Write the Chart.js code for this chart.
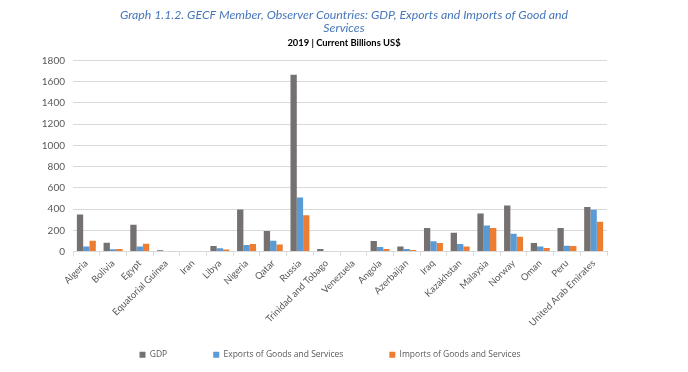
<!DOCTYPE html>
<html>
<head>
<meta charset="utf-8">
<script src="https://cdn.jsdelivr.net/npm/chart.js@4.4.1/dist/chart.umd.min.js"></script>
<style>
  html, body { margin: 0; padding: 0; background: #fff; }
  #wrap { position: relative; width: 688px; height: 372px; }
</style>
</head>
<body>
<div id="wrap"><canvas id="gecfChart" width="688" height="372"></canvas></div>
<script>
// GECF countries, 2019, current billions US$
const countries = ['Algeria','Bolivia','Egypt','Equatorial Guinea','Iran','Libya','Nigeria','Qatar','Russia',
  'Trinidad and Tobago','Venezuela','Angola','Azerbaijan','Iraq','Kazakhstan','Malaysia','Norway','Oman','Peru',
  'United Arab Emirates'];
const gdp     = [349, 84, 253, 12, 0, 53, 396, 193, 1665, 25, 0, 100, 47, 222, 178, 359, 434, 81, 222, 421];
const exports = [47, 22, 47, 5, 0, 31, 62, 103, 509, 0, 0, 44, 25, 97, 72, 246, 168, 47, 56, 393];
const imports = [103, 25, 75, 3, 0, 19, 72, 66, 343, 0, 0, 25, 16, 81, 47, 222, 140, 34, 53, 281];
const yTicks  = [0, 200, 400, 600, 800, 1000, 1200, 1400, 1600, 1800];

const tickFont = { family: 'Lato', size: 9.5 };

// legend items are spread wide apart but sit close under the axis labels:
// keep the wide item padding, trim the space it adds above the row
const LEGEND_TRIM = 26;
const LEGEND_SHIFT = -14;
const legendGap = {
  id: 'legendGap',
  beforeUpdate(chart) {
    const lg = chart.legend;
    if (!lg || lg._gapPatched) return;
    lg._gapPatched = true;
    const fit = lg.fit, draw = lg.draw;
    lg.fit = function () { fit.call(this); this.height -= LEGEND_TRIM; };
    lg.draw = function () {
      this.top -= LEGEND_TRIM; this.left += LEGEND_SHIFT; this.right += LEGEND_SHIFT;
      draw.call(this);
      this.top += LEGEND_TRIM; this.left -= LEGEND_SHIFT; this.right -= LEGEND_SHIFT;
    };
  }
};

new Chart(document.getElementById('gecfChart').getContext('2d'), {
  type: 'bar',
  data: {
    labels: countries,
    datasets: [
      { label: 'GDP', data: gdp, backgroundColor: '#767171' },
      { label: 'Exports of Goods and Services', data: exports, backgroundColor: '#5B9BD5' },
      { label: 'Imports of Goods and Services', data: imports, backgroundColor: '#ED7D31' }
    ]
  },
  options: {
    responsive: false,
    animation: false,
    layout: { padding: { left: 0, right: 0, top: 0, bottom: 3 } },
    datasets: { bar: { barPercentage: 1, categoryPercentage: 0.71 } },
    scales: {
      x: {
        grid: { drawOnChartArea: false, color: '#d9d9d9', tickLength: 4, offset: true },
        border: { color: '#d9d9d9' },
        ticks: { color: '#595959', font: tickFont, minRotation: 45, maxRotation: 45, autoSkip: false, padding: 2 }
      },
      y: {
        min: 0, max: yTicks[yTicks.length - 1],
        afterBuildTicks: s => { s.ticks = yTicks.map(v => ({ value: v })); },
        afterFit: s => { s.width = 73; },
        grid: { color: '#d9d9d9', drawTicks: false },
        border: { display: false },
        ticks: { color: '#595959', font: { family: 'Lato', size: 10 }, padding: 8, callback: v => String(v) }
      },
      // empty axis on the right keeps the plot narrower than the page
      yR: {
        position: 'right',
        afterFit: s => { s.width = 81; },
        grid: { display: false },
        border: { display: false },
        ticks: { display: false }
      }
    },
    plugins: {
      title: {
        display: true,
        text: ['Graph 1.1.2. GECF Member, Observer Countries: GDP, Exports and Imports of Good and', 'Services'],
        color: '#4677BA',
        font: { family: 'Lato', size: 12.3, style: 'italic', weight: 'normal', lineHeight: 1.1 },
        padding: { top: 8, bottom: 2 }
      },
      subtitle: {
        display: true,
        text: '2019 | Current Billions US$',
        color: '#000',
        font: { family: 'Lato', size: 9.4, weight: 'bold' },
        padding: { top: 0, bottom: 12 }
      },
      legend: {
        position: 'bottom',
        labels: { boxWidth: 6, boxHeight: 6, padding: 46, color: '#595959', font: { family: 'Open Sans', size: 8.5 } }
      },
      tooltip: { enabled: false }
    }
  },
  plugins: [legendGap]
});
</script>
</body>
</html>
